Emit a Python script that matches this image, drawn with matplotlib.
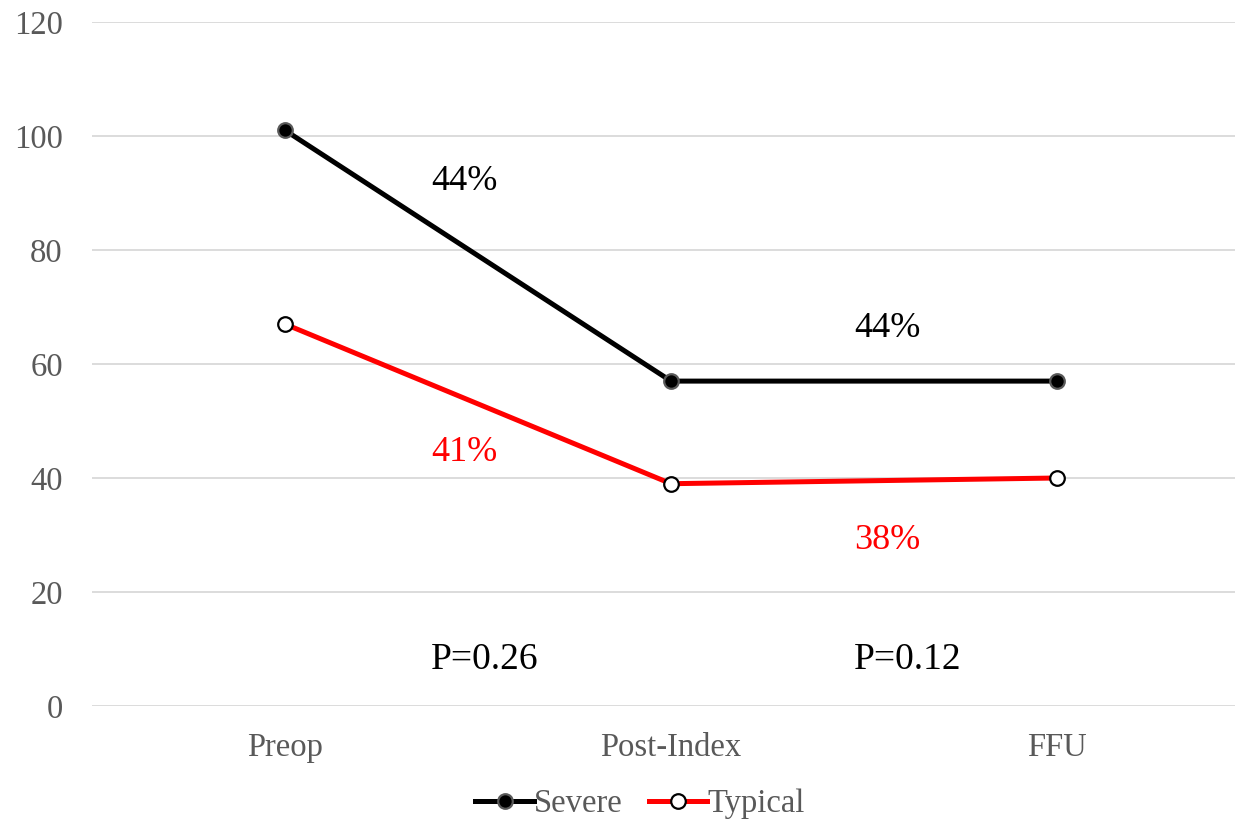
import matplotlib
matplotlib.use("Agg")
import matplotlib.pyplot as plt

plt.rcParams['font.family'] = ['Liberation Serif', 'DejaVu Serif']

categories = ["Preop", "Post-Index", "FFU"]
severe = [101, 57, 57]
typical = [67, 39, 40]
y_ticks = [0, 20, 40, 60, 80, 100, 120]

# change labels: (text, x, y, colour)
change_labels = [
    ("44%", 0.464, 92.1, "black"),
    ("44%", 1.56, 66.3, "black"),
    ("41%", 0.464, 44.4, "#ff0000"),
    ("38%", 1.56, 29.1, "#ff0000"),
]
p_labels = [("P=0.26", 0.518, 8.1), ("P=0.12", 1.614, 8.1)]

fig = plt.figure(figsize=(12.35, 8.22), dpi=100)
ax = fig.add_axes([92 / 1235, 1 - 706 / 822, 1 - 92 / 1235, (706 - 22) / 822])

x = list(range(len(categories)))
ax.plot(x, severe, color="black", lw=3.6, marker="o", ms=10.5,
        mfc="black", mec="#595959", mew=1.6, label="Severe", zorder=3)
ax.plot(x, typical, color="#ff0000", lw=3.6, marker="o", ms=10.5,
        mfc="white", mec="black", mew=1.6, label="Typical", zorder=3)

for txt, tx, ty, c in change_labels:
    ax.text(tx, ty, txt, color=c, fontsize=26, ha="center", va="center")
for txt, tx, ty in p_labels:
    ax.text(tx, ty, txt, color="black", fontsize=27, ha="center", va="center")

ax.set_xlim(-0.5, 2.461)
ax.set_ylim(0, 120)
ax.set_yticks(y_ticks)
ax.set_xticks(x)
ax.set_xticklabels(categories)
ax.tick_params(axis="both", length=0, labelsize=23.5, labelcolor="#595959")
ax.tick_params(axis="y", pad=21)
ax.tick_params(axis="x", pad=19)
ax.grid(axis="y", color="#d9d9d9", lw=1.3)
ax.set_axisbelow(True)
for s in ax.spines.values():
    s.set_visible(False)

leg = fig.legend(loc="center", bbox_to_anchor=(640 / 1235, 1 - 804 / 822),
                 ncol=2, frameon=False, fontsize=23.5, handlelength=1.8,
                 handletextpad=0.0, columnspacing=0.8, labelcolor="#595959")

fig.savefig("out.png", dpi=100)
